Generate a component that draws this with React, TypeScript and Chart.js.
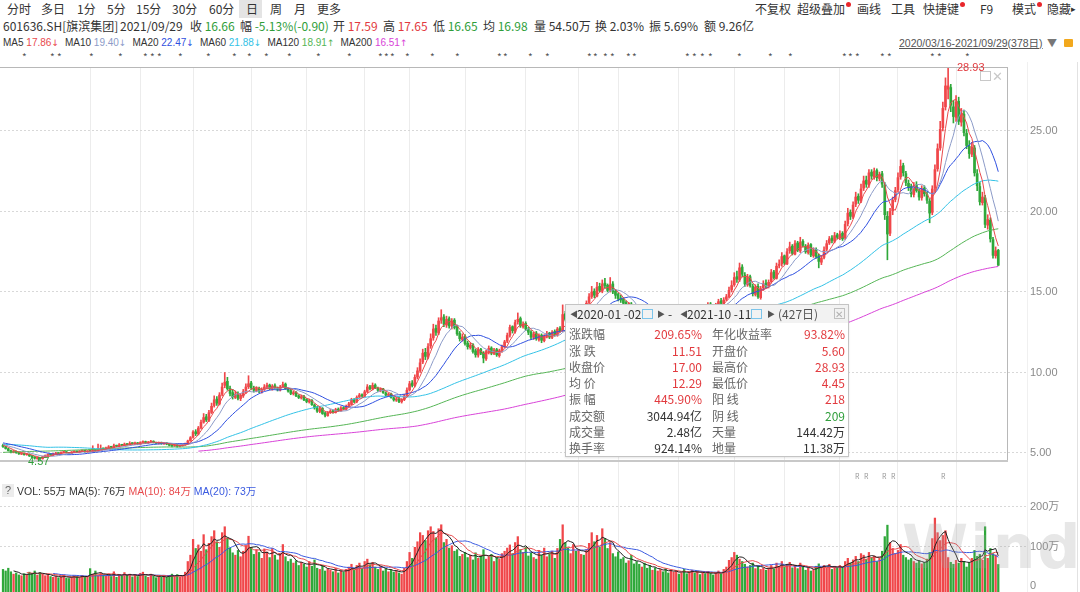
import React, { useEffect, useRef } from "react";
import { Chart, registerables } from "chart.js";
Chart.register(...registerables);

const FONT = '"Noto Sans CJK SC", "Noto Sans", sans-serif';
const LFONT = '"Liberation Sans", Arial, "Noto Sans CJK SC", sans-serif';

// ---- closes before the visible window (needed for the long moving averages)
const preCloses = [
  4.37, 4.33, 4.30, 4.35, 4.27, 4.23, 4.25, 4.30, 4.28, 4.32,
  4.35, 4.31, 4.27, 4.33, 4.37, 4.34, 4.30, 4.25, 4.29, 4.32,
  4.36, 4.39, 4.35, 4.33, 4.38, 4.41, 4.37, 4.34, 4.30, 4.33,
  4.37, 4.35, 4.32, 4.29, 4.33, 4.36, 4.40, 4.37, 4.35, 4.38,
  4.41, 4.45, 4.43, 4.47, 4.50, 4.46, 4.49, 4.53, 4.55, 4.51,
  4.72, 4.78, 4.82, 4.85, 4.92, 4.98, 4.95, 5.02, 5.08, 5.05,
  5.12, 5.18, 5.15, 5.22, 5.28, 5.25, 5.32, 5.38, 5.42, 5.40,
  5.58, 5.62, 5.55, 5.60, 5.66, 5.70, 5.65, 5.72, 5.68, 5.60,
  5.55, 5.48, 5.40, 4.86, 4.70, 4.82, 4.95, 5.05, 5.12, 5.20,
  5.28, 5.35, 5.32, 5.40, 5.48, 5.55, 5.62, 5.70, 5.78, 5.85,
  5.92, 5.88, 5.80, 5.75, 5.82, 5.90, 5.86, 5.78, 5.72, 5.80,
  5.85, 5.78, 5.70, 5.62, 5.68, 5.60, 5.55, 5.62, 5.58, 5.50,
  5.55, 5.48, 5.52, 5.45, 5.50,
];

// ---- daily candles 2020/03/16 - 2021/09/29 (378 days)
const closes = [
  5.40, 5.28, 5.15, 5.05, 5.12, 5.02, 4.95, 4.98, 4.90, 4.94,
  4.82, 4.75, 4.68, 4.72, 4.65, 4.78, 4.85, 4.92, 4.88, 4.95,
  5.00, 4.96, 5.04, 5.08, 5.02, 4.98, 5.06, 5.10, 5.05, 5.12,
  5.15, 5.08, 5.12, 5.10, 5.18, 5.14, 5.22, 5.28, 5.25, 5.32,
  5.38, 5.35, 5.45, 5.42, 5.50, 5.48, 5.55, 5.52, 5.60, 5.58,
  5.62, 5.55, 5.65, 5.70, 5.62, 5.68, 5.72, 5.66, 5.60, 5.64,
  5.58, 5.62, 5.55, 5.48, 5.45, 5.50, 5.42, 5.46, 5.52, 5.55,
  5.75, 5.95, 6.30, 6.20, 6.55, 6.90, 7.20, 7.05, 7.50, 7.90,
  8.30, 8.10, 8.60, 9.10, 9.40, 9.00, 8.70, 8.50, 8.65, 8.40,
  8.55, 8.80, 9.10, 9.30, 9.05, 8.90, 9.00, 8.85, 8.95, 9.10,
  9.20, 9.00, 9.15, 9.05, 8.95, 9.10, 9.25, 9.00, 8.85, 8.70,
  8.75, 8.55, 8.45, 8.50, 8.30, 8.20, 8.25, 8.00, 7.80, 7.60,
  7.75, 7.45, 7.35, 7.50, 7.60, 7.55, 7.70, 7.65, 7.80, 7.75,
  7.90, 8.05, 8.30, 8.20, 8.45, 8.60, 8.55, 8.80, 9.10, 9.00,
  9.20, 9.05, 8.90, 8.95, 8.75, 8.60, 8.65, 8.45, 8.30, 8.35,
  8.20, 8.30, 8.55, 8.90, 9.30, 9.20, 9.70, 10.10, 10.60, 11.20,
  11.00, 11.60, 12.10, 12.70, 12.50, 13.20, 13.40, 13.00, 13.30, 12.90,
  13.20, 12.80, 12.40, 12.10, 12.20, 11.80, 11.60, 11.70, 11.30, 11.10,
  11.40, 11.20, 10.90, 11.30, 11.50, 11.20, 11.40, 11.10, 11.35, 11.60,
  11.90, 12.30, 12.80, 12.60, 13.10, 13.30, 12.90, 13.00, 12.70, 12.50,
  12.20, 12.40, 12.10, 12.30, 12.00, 12.25, 12.40, 12.20, 12.50, 12.35,
  12.70, 12.60, 13.60, 13.30, 12.90, 13.30, 13.50, 13.40, 13.80, 14.00,
  13.90, 14.30, 14.70, 15.00, 14.80, 15.30, 15.10, 15.50, 15.40, 15.10,
  15.45, 15.00, 14.80, 14.60, 14.50, 14.30, 14.10, 14.20, 13.80, 13.60,
  13.20, 12.90, 13.30, 13.10, 12.70, 12.50, 12.80, 12.60, 12.90, 13.20,
  13.00, 12.80, 12.60, 12.90, 13.10, 13.40, 13.30, 13.60, 13.50, 13.20,
  13.40, 13.70, 13.60, 13.90, 13.80, 14.00, 13.90, 14.20, 14.10, 13.90,
  14.20, 14.40, 14.30, 14.50, 14.70, 15.10, 15.40, 15.90, 15.80, 16.50,
  16.10, 15.50, 15.90, 15.40, 14.90, 15.30, 14.70, 15.20, 15.50, 15.40,
  15.60, 16.20, 15.90, 16.60, 16.70, 17.20, 16.80, 17.50, 17.80, 17.40,
  18.00, 17.60, 18.10, 17.90, 17.50, 17.90, 17.30, 17.60, 17.20, 16.90,
  17.10, 17.60, 18.00, 18.30, 18.20, 18.50, 18.40, 18.60, 18.30, 19.20,
  19.90, 19.70, 20.40, 20.90, 20.70, 21.40, 21.90, 21.70, 22.40, 22.20,
  22.50, 22.10, 22.30, 21.70, 19.80, 18.60, 20.00, 20.70, 21.30, 22.10,
  22.80, 22.40, 21.80, 21.50, 21.10, 21.60, 21.30, 20.90, 21.40, 21.10,
  20.70, 19.90, 21.40, 22.60, 23.90, 25.10, 26.40, 27.80, 27.80, 26.60,
  25.90, 26.80, 25.60, 26.10, 24.90, 24.10, 23.60, 24.00, 22.40, 21.60,
  20.60, 20.90, 19.20, 19.50, 18.30, 17.28, 17.56, 16.66,
];

const opens = [
  5.48, 5.38, 5.26, 5.14, 5.04, 5.10, 5.01, 4.93, 4.97, 4.89,
  4.92, 4.83, 4.76, 4.66, 4.71, 4.64, 4.77, 4.84, 4.93, 4.87,
  4.94, 5.01, 4.95, 5.03, 5.07, 5.01, 4.97, 5.05, 5.11, 5.04,
  5.11, 5.16, 5.07, 5.13, 5.09, 5.19, 5.13, 5.21, 5.29, 5.24,
  5.31, 5.39, 5.34, 5.46, 5.41, 5.51, 5.47, 5.56, 5.51, 5.61,
  5.57, 5.63, 5.54, 5.66, 5.71, 5.61, 5.67, 5.73, 5.65, 5.59,
  5.65, 5.57, 5.63, 5.56, 5.49, 5.44, 5.51, 5.41, 5.45, 5.51,
  5.56, 5.77, 5.98, 6.32, 6.18, 6.58, 6.92, 7.25, 7.02, 7.52,
  7.95, 8.35, 8.05, 8.65, 9.20, 9.45, 9.00, 8.75, 8.45, 8.70,
  8.38, 8.55, 8.82, 9.12, 9.35, 9.02, 8.88, 9.02, 8.82, 8.96,
  9.08, 9.22, 8.98, 9.18, 9.02, 8.92, 9.12, 9.28, 8.98, 8.88,
  8.68, 8.78, 8.55, 8.42, 8.52, 8.32, 8.18, 8.28, 7.98, 7.82,
  7.58, 7.78, 7.48, 7.32, 7.52, 7.62, 7.52, 7.72, 7.62, 7.82,
  7.72, 7.92, 8.02, 8.32, 8.18, 8.48, 8.62, 8.52, 8.82, 9.12,
  8.98, 9.22, 9.02, 8.88, 8.98, 8.72, 8.58, 8.68, 8.42, 8.28,
  8.38, 8.18, 8.32, 8.58, 8.92, 9.35, 9.18, 9.72, 10.12, 10.65,
  11.25, 10.95, 11.65, 12.15, 12.75, 12.45, 13.25, 13.45, 12.95, 13.35,
  12.88, 13.25, 12.85, 12.42, 12.05, 12.25, 11.82, 11.55, 11.72, 11.35,
  11.08, 11.45, 11.22, 10.85, 11.28, 11.52, 11.18, 11.42, 11.05, 11.38,
  11.62, 11.95, 12.32, 12.85, 12.55, 13.15, 13.35, 12.85, 13.05, 12.68,
  12.52, 12.18, 12.45, 12.05, 12.32, 11.98, 12.28, 12.45, 12.18, 12.55,
  12.32, 12.75, 12.65, 13.65, 13.25, 12.85, 13.35, 13.55, 13.35, 13.82,
  14.05, 13.88, 14.35, 14.72, 15.05, 14.75, 15.35, 15.05, 15.55, 15.42,
  15.12, 15.50, 15.05, 14.85, 14.62, 14.55, 14.35, 14.05, 14.25, 13.85,
  13.65, 13.25, 12.85, 13.35, 13.05, 12.75, 12.45, 12.85, 12.55, 12.95,
  13.25, 12.95, 12.85, 12.55, 12.95, 13.12, 13.45, 13.25, 13.65, 13.45,
  13.18, 13.42, 13.75, 13.55, 13.95, 13.75, 14.05, 13.85, 14.25, 14.05,
  13.88, 14.22, 14.45, 14.25, 14.55, 14.72, 15.15, 15.45, 15.95, 15.75,
  16.55, 16.05, 15.45, 15.95, 15.35, 14.85, 15.35, 14.65, 15.25, 15.55,
  15.38, 15.65, 16.25, 15.85, 16.65, 16.75, 17.25, 16.75, 17.55, 17.85,
  17.35, 18.05, 17.55, 18.15, 17.85, 17.45, 17.95, 17.25, 17.65, 17.25,
  16.85, 17.15, 17.65, 18.05, 18.35, 18.15, 18.55, 18.35, 18.65, 18.35,
  19.25, 19.95, 19.65, 20.45, 20.95, 20.65, 21.45, 21.95, 21.65, 22.45,
  22.15, 22.55, 22.05, 22.35, 21.65, 19.70, 18.65, 20.05, 20.75, 21.35,
  22.15, 22.85, 22.35, 21.75, 21.55, 21.05, 21.65, 21.25, 20.85, 21.45,
  21.05, 20.65, 19.95, 21.45, 22.65, 23.95, 25.20, 26.50, 27.60, 27.70,
  26.50, 25.85, 26.85, 25.55, 26.05, 24.85, 24.05, 23.55, 23.95, 22.35,
  21.55, 20.55, 20.85, 19.15, 19.45, 18.25, 17.25, 17.59,
];

const highs = [
  5.55, 5.42, 5.30, 5.18, 5.16, 5.13, 5.05, 5.02, 5.00, 4.98,
  4.95, 4.86, 4.78, 4.76, 4.73, 4.80, 4.88, 4.95, 4.96, 4.98,
  5.04, 5.03, 5.07, 5.12, 5.09, 5.04, 5.09, 5.14, 5.13, 5.15,
  5.19, 5.18, 5.15, 5.16, 5.45, 5.21, 5.55, 5.50, 5.31, 5.36,
  5.46, 5.42, 5.55, 5.49, 5.58, 5.54, 5.62, 5.59, 5.70, 5.64,
  5.68, 5.66, 5.70, 5.76, 5.74, 5.72, 5.78, 5.76, 5.68, 5.68,
  5.68, 5.66, 5.66, 5.58, 5.53, 5.54, 5.55, 5.50, 5.56, 5.62,
  5.80, 6.02, 6.40, 6.45, 6.65, 7.05, 7.45, 7.40, 7.65, 8.10,
  8.55, 8.50, 8.75, 9.35, 10.00, 9.70, 9.15, 8.95, 8.85, 8.80,
  8.70, 8.95, 9.30, 9.80, 9.45, 9.15, 9.12, 9.10, 9.05, 9.25,
  9.35, 9.28, 9.25, 9.30, 9.10, 9.20, 9.40, 9.35, 9.05, 8.95,
  8.85, 8.82, 8.62, 8.60, 8.58, 8.38, 8.35, 8.32, 8.05, 7.90,
  7.85, 7.82, 7.55, 7.58, 7.70, 7.68, 7.78, 7.80, 7.88, 7.88,
  7.98, 8.15, 8.40, 8.38, 8.55, 8.70, 8.68, 8.90, 9.25, 9.20,
  9.35, 9.30, 9.10, 9.05, 9.02, 8.80, 8.72, 8.72, 8.50, 8.45,
  8.45, 8.38, 8.65, 9.05, 9.45, 9.50, 9.85, 10.30, 10.85, 11.45,
  11.50, 11.80, 12.40, 13.00, 12.95, 13.40, 13.90, 13.60, 13.50, 13.45,
  13.35, 13.35, 12.95, 12.55, 12.40, 12.35, 11.95, 11.85, 11.80, 11.45,
  11.55, 11.50, 11.30, 11.40, 11.65, 11.60, 11.50, 11.50, 11.45, 11.70,
  12.00, 12.45, 12.95, 12.90, 13.25, 13.70, 13.45, 13.15, 13.15, 12.80,
  12.60, 12.50, 12.55, 12.40, 12.40, 12.35, 12.55, 12.50, 12.60, 12.65,
  12.80, 12.85, 14.20, 13.80, 13.35, 13.45, 13.70, 13.65, 13.95, 14.15,
  14.20, 14.45, 14.90, 15.35, 15.20, 15.60, 15.55, 15.75, 15.85, 15.50,
  15.90, 15.65, 15.15, 14.95, 14.80, 14.65, 14.45, 14.35, 14.35, 13.95,
  13.75, 13.40, 13.45, 13.50, 13.15, 12.85, 12.95, 12.95, 13.05, 13.35,
  13.35, 13.10, 12.95, 13.00, 13.25, 13.55, 13.60, 13.75, 13.80, 13.55,
  13.50, 13.85, 13.85, 14.05, 14.05, 14.15, 14.15, 14.35, 14.35, 14.15,
  14.30, 14.55, 14.60, 14.65, 14.85, 15.30, 15.70, 16.20, 16.30, 16.80,
  16.70, 16.20, 16.10, 16.05, 15.50, 15.45, 15.50, 15.35, 15.70, 15.75,
  15.75, 16.40, 16.35, 16.80, 17.00, 17.45, 17.30, 17.70, 18.10, 17.95,
  18.20, 18.15, 18.40, 18.25, 17.95, 18.05, 18.00, 17.75, 17.75, 17.35,
  17.25, 17.80, 18.20, 18.45, 18.50, 18.70, 18.65, 18.80, 18.75, 19.40,
  20.20, 20.10, 20.60, 21.20, 21.10, 21.70, 22.20, 22.20, 22.60, 22.60,
  22.70, 22.65, 22.45, 22.50, 21.80, 20.00, 20.20, 20.90, 21.50, 22.40,
  23.20, 23.00, 22.50, 21.95, 21.70, 21.80, 21.85, 21.40, 21.60, 21.60,
  21.20, 20.80, 21.60, 22.90, 24.20, 25.60, 26.80, 28.30, 28.93, 27.90,
  26.90, 27.20, 27.10, 26.40, 26.30, 25.10, 24.40, 24.30, 24.10, 22.60,
  21.80, 21.20, 21.00, 19.80, 19.60, 18.40, 17.80, 17.65,
];

const lows = [
  5.35, 5.24, 5.12, 5.00, 5.01, 4.98, 4.91, 4.90, 4.86, 4.86,
  4.78, 4.71, 4.62, 4.61, 4.57, 4.62, 4.74, 4.81, 4.85, 4.84,
  4.91, 4.93, 4.93, 5.00, 4.99, 4.95, 4.95, 5.02, 5.02, 5.01,
  5.08, 5.05, 5.04, 5.07, 5.06, 5.11, 5.11, 5.18, 5.21, 5.21,
  5.28, 5.31, 5.32, 5.38, 5.39, 5.44, 5.45, 5.49, 5.49, 5.54,
  5.52, 5.51, 5.50, 5.62, 5.58, 5.58, 5.64, 5.62, 5.56, 5.55,
  5.54, 5.53, 5.51, 5.44, 5.38, 5.41, 5.36, 5.38, 5.42, 5.47,
  5.52, 5.72, 5.92, 6.08, 6.12, 6.50, 6.85, 6.95, 6.95, 7.45,
  7.85, 7.95, 7.98, 8.55, 9.05, 8.90, 8.55, 8.35, 8.38, 8.30,
  8.25, 8.45, 8.70, 9.00, 8.95, 8.78, 8.80, 8.75, 8.72, 8.88,
  8.98, 8.92, 8.90, 8.98, 8.85, 8.85, 9.05, 8.95, 8.78, 8.62,
  8.60, 8.50, 8.38, 8.35, 8.25, 8.12, 8.10, 7.95, 7.72, 7.52,
  7.50, 7.40, 7.24, 7.28, 7.45, 7.48, 7.48, 7.58, 7.58, 7.68,
  7.68, 7.88, 7.98, 8.12, 8.12, 8.42, 8.48, 8.48, 8.75, 8.92,
  8.92, 9.00, 8.82, 8.80, 8.70, 8.52, 8.52, 8.40, 8.22, 8.20,
  8.12, 8.10, 8.25, 8.50, 8.85, 9.10, 9.10, 9.60, 10.00, 10.55,
  10.80, 10.85, 11.50, 12.00, 12.30, 12.35, 13.05, 12.85, 12.80, 12.75,
  12.70, 12.70, 12.30, 11.95, 11.95, 11.70, 11.45, 11.45, 11.20, 10.95,
  10.95, 11.10, 10.60, 10.75, 11.15, 11.10, 11.10, 11.00, 10.95, 11.25,
  11.55, 11.85, 12.20, 12.45, 12.45, 13.00, 12.80, 12.75, 12.60, 12.35,
  12.05, 12.05, 12.00, 11.95, 11.85, 11.90, 12.15, 12.10, 12.10, 12.25,
  12.25, 12.50, 12.55, 13.20, 12.80, 12.80, 13.20, 13.30, 13.25, 13.70,
  13.75, 13.80, 14.20, 14.60, 14.65, 14.70, 15.00, 14.95, 15.25, 15.00,
  15.00, 14.90, 14.60, 14.45, 14.35, 14.20, 13.95, 13.95, 13.70, 13.45,
  13.05, 12.75, 12.80, 12.95, 12.60, 12.30, 12.40, 12.50, 12.45, 12.85,
  12.90, 12.70, 12.45, 12.50, 12.85, 13.05, 13.20, 13.20, 13.40, 13.10,
  13.10, 13.35, 13.50, 13.50, 13.70, 13.70, 13.80, 13.80, 14.00, 13.80,
  13.80, 14.10, 14.20, 14.20, 14.45, 14.65, 15.00, 15.35, 15.60, 15.65,
  15.95, 15.35, 15.35, 15.30, 14.75, 14.75, 14.60, 14.55, 15.10, 15.25,
  15.25, 15.55, 15.80, 15.80, 16.50, 16.60, 16.70, 16.70, 17.40, 17.30,
  17.30, 17.50, 17.45, 17.80, 17.40, 17.35, 17.20, 17.15, 17.10, 16.50,
  16.70, 17.05, 17.55, 17.95, 18.05, 18.05, 18.30, 18.25, 18.20, 18.25,
  19.10, 19.50, 19.55, 20.30, 20.50, 20.55, 21.30, 21.50, 21.50, 22.00,
  22.00, 21.90, 21.90, 21.50, 19.50, 17.00, 18.50, 19.80, 20.60, 21.20,
  22.00, 22.20, 21.60, 21.30, 20.90, 20.90, 21.20, 20.70, 20.70, 20.95,
  20.50, 19.30, 19.80, 21.20, 22.50, 23.80, 25.00, 26.30, 27.00, 26.20,
  25.50, 25.60, 25.40, 25.30, 24.70, 23.90, 23.30, 23.40, 22.20, 21.30,
  20.40, 20.40, 19.00, 18.90, 18.10, 17.10, 17.10, 16.65,
];

// volume, in 万
const volumes = [
  42, 38, 45, 36, 30, 33, 28, 26, 31, 29,
  35, 32, 38, 27, 34, 30, 26, 29, 24, 22,
  25, 21, 23, 28, 20, 19, 22, 26, 24, 21,
  27, 23, 25, 44, 30, 38, 26, 33, 28, 25,
  31, 24, 36, 22, 29, 25, 34, 27, 30, 23,
  28, 24, 32, 35, 26, 22, 30, 25, 21, 24,
  23, 26, 22, 27, 30, 24, 29, 23, 26, 35,
  62, 78, 118, 95, 104, 88, 130, 92, 108, 125,
  140, 112, 98, 135, 150, 122, 96, 84, 78, 90,
  74, 88, 102, 126, 98, 80, 92, 85, 70, 94,
  86, 72, 95, 78, 66, 82, 105, 74, 62, 68,
  58, 64, 52, 60, 55, 48, 62, 50, 66, 45,
  42, 52, 38, 44, 40, 36, 45, 33, 38, 35,
  42, 48, 55, 40, 52, 58, 45, 62, 68, 54,
  60, 48, 42, 50, 38, 44, 36, 41, 35, 39,
  33, 30, 45, 62, 85, 70, 98, 112, 135, 128,
  115, 140, 150, 138, 122, 145, 155, 110, 118, 96,
  102, 88, 92, 75, 80, 85, 72, 78, 66, 84,
  70, 76, 92, 68, 74, 80, 62, 72, 68, 82,
  88, 96, 104, 82, 110, 125, 92, 85, 98, 76,
  84, 72, 68, 90, 78, 96, 74, 82, 88, 70,
  95, 118, 155, 110, 96, 82, 105, 88, 92, 80,
  78, 92, 108, 135, 112, 128, 98, 145, 120, 95,
  110, 82, 74, 86, 68, 72, 58, 64, 78, 56,
  62, 55, 48, 58, 45, 52, 40, 46, 38, 42,
  36, 44, 33, 40, 35, 38, 30, 34, 42, 31,
  36, 40, 33, 38, 29, 35, 31, 37, 32, 28,
  34, 38, 30, 42, 48, 65, 72, 85, 78, 68,
  62, 55, 48, 52, 58, 44, 50, 42, 46, 40,
  45, 52, 43, 58, 50, 62, 48, 55, 60, 46,
  52, 44, 58, 48, 40, 45, 38, 42, 50, 56,
  48, 52, 46, 55, 42, 50, 45, 52, 48, 62,
  70, 58, 66, 75, 62, 82, 78, 68, 85, 72,
  76, 62, 70, 88, 125, 154, 110, 95, 82, 90,
  105, 78, 72, 66, 70, 62, 58, 64, 56, 60,
  68, 85, 120, 172, 135, 115, 128, 140, 72, 60,
  55, 65, 58, 70, 62, 48, 60, 70, 90, 75,
  80, 65, 150, 70, 95, 82, 78.5, 54.5,
];

const monthStarts = [33, 52, 72, 94, 115, 137, 154, 175, 198, 218, 233, 256, 277, 296, 317, 339, 361];
const priceTicks = [5, 10, 15, 20, 25];
const volTicks = [0, 100, 200];
const maPeriods = [5, 10, 20, 60, 120, 200];
const maLabels = ["MA5", "MA10", "MA20", "MA60", "MA120", "MA200"];
const maLegendValues = ["17.86", "19.40", "22.47", "21.88", "18.91", "16.51"];
const maLegendArrows = ["↓", "↓", "↓", "↓", "↑", "↑"];
const maColors = ["#e84a4d", "#8c9bc8", "#2f50e0", "#33c2e6", "#55b555", "#d843d8"];
const volMaPeriods = [5, 10, 20];
const volMaColors = ["#222222", "#e84a4d", "#3a5ae0"];

const toolbarLeft = [["分时", 7], ["多日", 41], ["1分", 77], ["5分", 107], ["15分", 136], ["30分", 172], ["60分", 209], ["日", 246], ["周", 270], ["月", 294], ["更多", 317]];
const toolbarRight = [["不复权", 755, false], ["超级叠加", 797, true], ["画线", 857, false], ["工具", 891, false], ["快捷键", 923, true], ["F9", 980, false], ["模式", 1012, true], ["隐藏", 1047, false]];
const starXs = [22, 50, 57, 89, 118, 143, 150, 157, 178, 206, 232, 247, 264, 287, 316, 347, 378, 384, 390, 405, 430, 455, 497, 503, 528, 545, 587, 593, 603, 610, 626, 632, 685, 692, 700, 708, 737, 768, 788, 842, 848, 855, 880, 887, 930, 937, 965];
const rXs = [855, 864, 882, 891, 941];

const RED = "#f0474a";
const GREEN = "#2fa83a";
const TXT_RED = "#e23a3e";
const TXT_GREEN = "#2f9e3a";

const X_MIN = -1.136;
const X_MAX = 380.68;

function movingAvg(src: number[], n: number, offset: number, len: number) {
  const out: any[] = [];
  for (let i = 0; i < len; i++) {
    const end = offset + i;
    if (end - n + 1 < 0) { out.push({ x: i, y: null }); continue; }
    let s = 0;
    for (let k = end - n + 1; k <= end; k++) s += src[k];
    out.push({ x: i, y: s / n });
  }
  return out;
}

function noPad(s: any) {
  s.paddingTop = 0; s.paddingBottom = 0; s.paddingLeft = 0; s.paddingRight = 0;
}

function xScale() {
  return {
    type: "linear", min: X_MIN, max: X_MAX, offset: false,
    afterBuildTicks: (s: any) => { s.ticks = monthStarts.map((v) => ({ value: v })); },
    afterFit: (s: any) => { s.height = 0; noPad(s); },
    ticks: { display: false },
    grid: { color: "#ececec", drawTicks: false, offset: false },
    border: { display: false },
  };
}

function T(props: any) {
  const s = props.s || 12;
  const st: any = {
    position: "absolute", top: props.y - s * 0.7, fontSize: s, lineHeight: `${s * 1.4}px`,
    color: props.c || "#333", whiteSpace: "nowrap", fontFamily: props.f || FONT, ...(props.style || {}),
  };
  if (props.r !== undefined) st.right = 1080 - props.r; else st.left = props.x;
  return <div style={st}>{props.children}</div>;
}

function P(props: any) {
  const s = props.s || 12;
  const st: any = {
    position: "absolute", top: props.y - s * 0.7, fontSize: s, lineHeight: `${s * 1.4}px`,
    color: props.c || "#333", whiteSpace: "nowrap", fontFamily: FONT,
  };
  if (props.r !== undefined) st.right = 284 - props.r; else st.left = props.x;
  return <div style={st}>{props.children}</div>;
}

const statsLeft = [["涨跌幅", "209.65%", TXT_RED], ["涨  跌", "11.51", TXT_RED], ["收盘价", "17.00", TXT_RED], ["均  价", "12.29", TXT_RED], ["振  幅", "445.90%", TXT_RED], ["成交额", "3044.94亿", "#333"], ["成交量", "2.48亿", "#333"], ["换手率", "924.14%", "#333"]];
const statsRight = [["年化收益率", "93.82%", TXT_RED], ["开盘价", "5.60", TXT_RED], ["最高价", "28.93", TXT_RED], ["最低价", "4.45", TXT_RED], ["阳  线", "218", TXT_RED], ["阴  线", "209", TXT_GREEN], ["天量", "144.42万", "#333"], ["地量", "11.38万", "#333"]];
const statRowsY = [29, 46, 62, 78, 94, 111, 127, 143];

export default function App() {
  const priceRef = useRef<HTMLCanvasElement>(null);
  const volRef = useRef<HTMLCanvasElement>(null);

  useEffect(() => {
    Chart.defaults.font.family = LFONT;
    const N = closes.length;
    const idx = closes.map((_, i) => i);
    const colors = idx.map((i) => (closes[i] >= opens[i] ? RED : GREEN));
    const allCloses = [...preCloses, ...closes];
    const off = preCloses.length;

    const price = new Chart(priceRef.current as HTMLCanvasElement, {
      type: "bar",
      data: {
        datasets: [
          ...maPeriods.map((n, k) => ({
            type: "line", data: movingAvg(allCloses, n, off, N), borderColor: maColors[k],
            borderWidth: 1, pointRadius: 0, order: 0,
          })),
          {
            type: "bar", data: idx.map((i) => ({ x: i, y: [opens[i], closes[i]] })),
            backgroundColor: colors, barThickness: 2, minBarLength: 1, grouped: false, order: 1,
          },
          {
            type: "bar", data: idx.map((i) => ({ x: i, y: [lows[i], highs[i]] })),
            backgroundColor: colors, barThickness: 1, grouped: false, order: 2,
          },
        ] as any,
      },
      options: {
        responsive: false, animation: false, devicePixelRatio: 1,
        layout: { padding: 0 },
        plugins: { legend: { display: false }, tooltip: { enabled: false } },
        scales: {
          x: xScale() as any,
          y: {
            position: "right", min: 4.565, max: 28.975,
            afterBuildTicks: (s: any) => { s.ticks = priceTicks.map((v) => ({ value: v })); },
            afterFit: (s: any) => { s.width = 72; noPad(s); },
            ticks: { color: "#8a8a8a", font: { size: 11 }, padding: 4, callback: (v: any) => Number(v).toFixed(2) },
            grid: { color: "#d8d8d8", tickLength: 18, tickColor: "#d8d8d8", tickBorderDash: [2, 2] },
            border: { display: false, dash: [2, 2] },
          } as any,
        },
      },
    });

    const vol = new Chart(volRef.current as HTMLCanvasElement, {
      type: "bar",
      data: {
        datasets: [
          ...volMaPeriods.map((n, k) => ({
            type: "line", data: movingAvg(volumes, n, 0, N), borderColor: volMaColors[k],
            borderWidth: 1, pointRadius: 0, order: 0,
          })),
          {
            type: "bar", data: idx.map((i) => ({ x: i, y: volumes[i] })),
            backgroundColor: colors, barThickness: 1.6, base: -16, grouped: false, order: 1,
          },
        ] as any,
      },
      options: {
        responsive: false, animation: false, devicePixelRatio: 1,
        layout: { padding: 0 },
        plugins: { legend: { display: false }, tooltip: { enabled: false } },
        scales: {
          x: xScale() as any,
          y: {
            position: "right", min: -15.19, max: 313.9,
            afterBuildTicks: (s: any) => { s.ticks = volTicks.map((v) => ({ value: v })); },
            afterFit: (s: any) => { s.width = 72; noPad(s); },
            ticks: { color: "#8a8a8a", font: { size: 11 }, padding: 4, callback: (v: any) => (Number(v) === 0 ? "0" : `${v}万`) },
            grid: {
              color: (c: any) => (c.tick && c.tick.value === 0 ? "rgba(0,0,0,0)" : "#d8d8d8"),
              tickLength: 18, tickColor: (c: any) => (c.tick && c.tick.value === 0 ? "rgba(0,0,0,0)" : "#d8d8d8"), tickBorderDash: [2, 2],
            },
            border: { display: false, dash: [2, 2] },
          } as any,
        },
      },
    });

    return () => { price.destroy(); vol.destroy(); };
  }, []);

  const arrowStyle = { fontFamily: '"DejaVu Sans", sans-serif', fontSize: 9 };

  return (
    <div style={{ position: "fixed", left: 0, top: 0, width: 1080, height: 592, background: "#fff", overflow: "hidden", fontFamily: FONT }}>
      {/* toolbar */}
      <div style={{ position: "absolute", left: 239, top: 0, width: 23, height: 18, background: "#e4e4e4" }} />
      {toolbarLeft.map(([t, x]: any) => <T key={t} x={x} y={9} s={12} c="#333">{t}</T>)}
      {toolbarRight.map(([t, x, dot]: any) => (
        <React.Fragment key={t}>
          <T x={x} y={9} s={12} c="#333">{t}</T>
          {dot ? <div style={{ position: "absolute", left: x + t.length * 12 + 1, top: 2, width: 5, height: 5, borderRadius: 3, background: "#e8262b" }} /> : null}
        </React.Fragment>
      ))}
      <T x={1071} y={9} s={9} c="#333">▸</T>

      {/* quote row */}
      <T x={3} y={26} c="#333">601636.SH[旗滨集团]</T>
      <T x={120} y={26} c="#333">2021/09/29</T>
      <T x={190} y={26} c="#333">收 <span style={{ color: TXT_GREEN }}>16.66</span></T>
      <T x={240} y={26} c="#333">幅 <span style={{ color: TXT_GREEN }}>-5.13%(-0.90)</span></T>
      <T x={333} y={26} c="#333">开 <span style={{ color: TXT_RED }}>17.59</span></T>
      <T x={383} y={26} c="#333">高 <span style={{ color: TXT_RED }}>17.65</span></T>
      <T x={433} y={26} c="#333">低 <span style={{ color: TXT_GREEN }}>16.65</span></T>
      <T x={483} y={26} c="#333">均 <span style={{ color: TXT_GREEN }}>16.98</span></T>
      <T x={534} y={26} c="#333">量 54.50万</T>
      <T x={595} y={26} c="#333">换 2.03%</T>
      <T x={649} y={26} c="#333">振 5.69%</T>
      <T x={704} y={26} c="#333">额 9.26亿</T>

      {/* MA legend */}
      <T x={3} y={43} s={10} f={LFONT}>
        {maLabels.map((l, k) => (
          <span key={l} style={{ marginRight: 6 }}>
            {l} <span style={{ color: maColors[k] }}>{maLegendValues[k]}<span style={arrowStyle}>{maLegendArrows[k]}</span></span>
          </span>
        ))}
      </T>
      <T x={899} y={43} s={10.5} f={LFONT} c="#555" style={{ textDecoration: "underline" }}>2020/03/16-2021/09/29(378日)</T>
      <T x={1047} y={43} s={10} c="#777">▼</T>
      <div style={{ position: "absolute", left: 1064, top: 39, width: 9, height: 8, background: "#f2a81d", borderRadius: 1 }} />

      {/* event markers */}
      {starXs.map((x, i) => <T key={i} x={x} y={57} s={10} c="#555">*</T>)}

      {/* charts */}
      <canvas ref={priceRef} width={1080} height={393} style={{ position: "absolute", left: 0, top: 67 }} />
      <canvas ref={volRef} width={1080} height={130} style={{ position: "absolute", left: 0, top: 462 }} />

      {/* plot frame */}
      <div style={{ position: "absolute", left: 0, top: 67, width: 1007, height: 1, background: "#b8b8b8" }} />
      <div style={{ position: "absolute", left: 1007, top: 67, width: 1, height: 393, background: "#b8b8b8" }} />
      <div style={{ position: "absolute", left: 0, top: 460, width: 1008, height: 2, background: "#c8c8c8" }} />
      <div style={{ position: "absolute", left: 1027, top: 62, width: 1, height: 530, background: "#f0f0f0" }} />
      <div style={{ position: "absolute", left: 1077, top: 62, width: 1, height: 530, background: "#e2e2e2" }} />
      <div style={{ position: "absolute", left: 980, top: 71, width: 9, height: 8, border: "1px solid #c8c8c8" }} />
      <T x={992} y={76} s={13} c="#c8c8c8">✕</T>

      {/* annotations */}
      <T x={957} y={68} s={11} f={LFONT} c={TXT_RED}>28.93</T>
      <T x={28} y={462} s={11} f={LFONT} c={TXT_GREEN}>4.57</T>
      {rXs.map((x, i) => <T key={i} x={x} y={477} s={7} c="#999">R</T>)}

      {/* volume legend */}
      <div style={{ position: "absolute", left: 2, top: 484, width: 12, height: 13, background: "#ececec" }} />
      <T x={5} y={491} s={11} f={LFONT} c="#666">?</T>
      <T x={17} y={491} s={10.5} f={LFONT}>
        <span>VOL: 55万 </span>
        <span>MA(5): 76万 </span>
        <span style={{ color: "#e84a4d" }}>MA(10): 84万 </span>
        <span style={{ color: "#3a5ae0" }}>MA(20): 73万</span>
      </T>

      {/* watermark */}
      <div style={{ position: "absolute", left: 902, top: 512, fontSize: 60, fontWeight: 700, color: "rgba(160,160,160,0.25)", fontFamily: '"DejaVu Sans", sans-serif', lineHeight: "70px", letterSpacing: 2 }}>Wind</div>

      {/* interval statistics popup */}
      <div style={{ position: "absolute", left: 565, top: 304, width: 284, height: 153, background: "#fff", border: "1px solid #c4c4c4", boxSizing: "border-box", boxShadow: "0 1px 2px rgba(0,0,0,0.1)" }}>
        <div style={{ position: "absolute", left: 0, top: 0, width: 282, height: 18, background: "#f2f2f2" }} />
        <P x={4} y={9} s={8} c="#555">◀</P>
        <P x={11} y={9} s={12}>2020-01 -02</P>
        <div style={{ position: "absolute", left: 76, top: 4, width: 9, height: 8, border: "1px solid #7cc4ea" }} />
        <P x={91} y={9} s={8} c="#555">▶</P>
        <P x={102} y={9} s={12}>-</P>
        <P x={114} y={9} s={8} c="#555">◀</P>
        <P x={121} y={9} s={12}>2021-10 -11</P>
        <div style={{ position: "absolute", left: 185, top: 4, width: 9, height: 8, border: "1px solid #7cc4ea" }} />
        <P x={201} y={9} s={8} c="#555">▶</P>
        <P x={212} y={9} s={12} c="#555">(427日)</P>
        <div style={{ position: "absolute", left: 268, top: 3, width: 11, height: 11, border: "1px solid #c0c0c0", boxSizing: "border-box" }} />
        <P x={269} y={9} s={10} c="#b0b0b0">✕</P>
        {statsLeft.map(([l, v, c]: any, i) => (
          <React.Fragment key={l}>
            <P x={3} y={statRowsY[i]} s={12} c="#666">{l}</P>
            <P r={138} y={statRowsY[i]} s={12} c={c}>{v}</P>
          </React.Fragment>
        ))}
        {statsRight.map(([l, v, c]: any, i) => (
          <React.Fragment key={l}>
            <P x={146} y={statRowsY[i]} s={12} c="#666">{l}</P>
            <P r={281} y={statRowsY[i]} s={12} c={c}>{v}</P>
          </React.Fragment>
        ))}
      </div>
    </div>
  );
}
